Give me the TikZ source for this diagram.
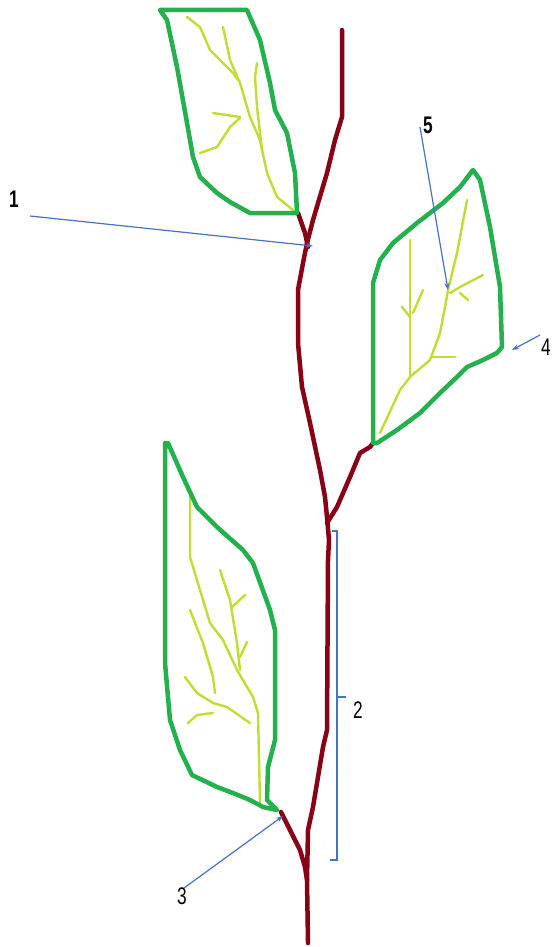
\documentclass[tikz,border=0pt]{standalone}
\usepackage{fontspec}
\newfontfamily\numfont[FakeStretch=0.72]{Liberation Sans}
\usetikzlibrary{arrows.meta}
\definecolor{leafgreen}{RGB}{34,177,76}
\definecolor{veingreen}{RGB}{190,222,50}
\definecolor{stemred}{RGB}{136,0,21}
\definecolor{arrowblue}{RGB}{68,114,196}
\tikzset{
  leafline/.style={draw=leafgreen,line width=4.5pt,line join=round,line cap=round},
  veinline/.style={draw=veingreen,line width=2.4pt,line join=round,line cap=round},
  stemline/.style={draw=stemred,line width=4.5pt,line join=round,line cap=round},
  pointer/.style={draw=arrowblue,line width=1.2pt,-{Stealth[length=7pt,width=5pt]}},
  bracketline/.style={draw=arrowblue,line width=1.4pt},
  numlabel/.style={font=\numfont\fontsize{24}{26}\selectfont,inner sep=1pt},
  boldlabel/.style={numlabel,font=\numfont\fontsize{24}{26}\selectfont\bfseries}
}
\begin{document}
\begin{tikzpicture}[x=1pt,y=-1pt]
\useasboundingbox (0,0) rectangle (552,947);
% ---------- stem ----------
\draw[stemline] (342,30) -- (342,117) -- (335,140) -- (327,173) -- (313,220) -- (307,243)
  -- (303,263) -- (298,290) -- (298,343) -- (302,387) -- (310,423) -- (320,470)
  -- (325,497) -- (327,517) -- (329,540) -- (328,560) -- (327,730) -- (323,747)
  -- (317,783) -- (313,807) -- (308,830) -- (307,880) -- (308,943);
\draw[stemline] (298,213) -- (305,233) -- (308,247);
\draw[stemline] (327,523) -- (337,507) -- (350,477) -- (360,453) -- (370,447) -- (373,443);
\draw[stemline] (281,812) -- (290,830) -- (300,850) -- (305,867) -- (307,880);
% ---------- top leaf ----------
\draw[veinline] (293,210) -- (277,197) -- (267,173) -- (260,140) -- (250,117) -- (240,83) -- (230,60) -- (223,27);
\draw[veinline] (187,17) -- (200,27) -- (210,50) -- (220,60) -- (233,73) -- (238,80);
\draw[veinline] (257,63) -- (255,77) -- (257,107) -- (260,133) -- (262,150);
\draw[veinline] (213,113) -- (240,117);
\draw[veinline] (200,153) -- (217,147) -- (230,127) -- (240,118);
\draw[leafline] (160,10) -- (247,10) -- (260,40) -- (270,83) -- (275,110) -- (287,133)
  -- (295,173) -- (297,213) -- (250,213) -- (230,202) -- (217,193) -- (200,177)
  -- (193,157) -- (187,123) -- (177,67) -- (167,20) -- cycle;
% ---------- right leaf ----------
\draw[veinline] (380,433) -- (400,390) -- (410,377) -- (430,360) -- (440,333) -- (445,307) -- (448,290) -- (457,253) -- (467,200);
\draw[veinline] (450,293) -- (460,287) -- (483,275);
\draw[veinline] (460,293) -- (468,300);
\draw[veinline] (432,357) -- (455,357);
\draw[veinline] (410,377) -- (410,240);
\draw[veinline] (410,317) -- (402,307);
\draw[veinline] (413,313) -- (423,290);
\draw[leafline] (473,170) -- (480,180) -- (490,227) -- (500,287) -- (502,347) -- (497,353)
  -- (483,360) -- (467,367) -- (457,377) -- (440,393) -- (420,413) -- (397,430)
  -- (377,443) -- (373,443) -- (373,283) -- (380,260) -- (393,243) -- (417,223)
  -- (430,213) -- (443,203) -- (460,187) -- cycle;
% ---------- bottom leaf ----------
\draw[veinline] (190,490) -- (190,557) -- (200,590) -- (210,623) -- (223,640) -- (237,670) -- (253,697) -- (258,713) -- (260,803);
\draw[veinline] (220,570) -- (230,600) -- (237,643) -- (240,670);
\draw[veinline] (232,607) -- (245,595);
\draw[veinline] (240,657) -- (247,642);
\draw[veinline] (190,610) -- (203,643) -- (213,677) -- (215,693);
\draw[veinline] (185,677) -- (197,693) -- (213,703) -- (227,707) -- (250,723);
\draw[veinline] (188,723) -- (197,715) -- (213,713);
\draw[leafline] (165,443) -- (168,443) -- (183,477) -- (197,507) -- (217,527) -- (243,550)
  -- (253,563) -- (270,610) -- (275,630) -- (275,740) -- (268,767) -- (267,800)
  -- (277,810) -- (263,807) -- (250,800) -- (233,793) -- (217,787) -- (192,775)
  -- (180,750) -- (170,720) -- (165,663) -- cycle;
% ---------- targets ----------
\coordinate (t1) at (313,246);
\coordinate (t3) at (283,816);
\coordinate (t4) at (512,350);
\coordinate (t5) at (448,290);
% ---------- labels ----------
\node[boldlabel] (l1) at (14,199) {1};
\node[numlabel] (l2) at (358,710) {2};
\node[numlabel] (l3) at (182,896) {3};
\node[numlabel,anchor=east] (l4) at (552,347) {4};
\node[boldlabel] (l5) at (428,125) {5};
% ---------- pointers ----------
\coordinate (s1) at (30,216);
\coordinate (s3) at (184,888);
\coordinate (s4) at (540,335);
\coordinate (s5) at (420,127);
\draw[pointer] (s1) -- (t1);
\draw[pointer] (s3) -- (t3);
\draw[pointer] (s4) -- (t4);
\draw[pointer] (s5) -- (t5);
% ---------- bracket ----------
\coordinate (b1) at (332,531);
\coordinate (b2) at (337,531);
\coordinate (b3) at (337,860);
\coordinate (b4) at (330,860);
\coordinate (bm) at (337,697);
\coordinate (bn) at (346,697);
\draw[bracketline] (b1) -- (b2) -- (b3) -- (b4);
\draw[bracketline] (bm) -- (bn);
\end{tikzpicture}
\end{document}
